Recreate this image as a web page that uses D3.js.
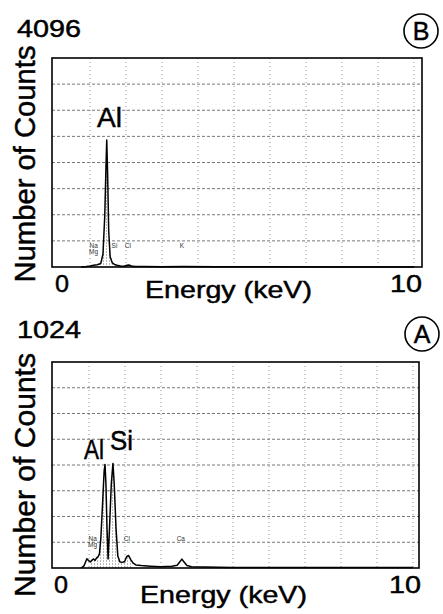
<!DOCTYPE html>
<html>
<head>
<meta charset="utf-8">
<script src="https://cdn.jsdelivr.net/npm/d3@7"></script>
<style>
  body { margin: 0; background: #fff; }
  svg { display: block; font-family: "Liberation Sans", Arial, sans-serif; }
  .big { stroke: #000; stroke-width: 0.45px; }
</style>
</head>
<body>
<div id="chart"></div>
<script>
// panel B spectrum (keV, counts)
const energyB = [0.75, 0.9, 1.0, 1.1, 1.2, 1.3, 1.36, 1.41, 1.445, 1.465, 1.49, 1.52, 1.56, 1.62, 1.68, 1.75, 1.85, 1.95, 2.03, 2.08, 2.15, 2.25, 2.5, 3.0, 3.6, 4.5, 6.0, 8.0, 10.0];
const countsB = [0, 8, 20, 35, 45, 70, 250, 1000, 2000, 2490, 1800, 700, 200, 80, 50, 35, 20, 15, 35, 40, 20, 10, 8, 6, 8, 4, 3, 2, 2];

// panel A spectrum (keV, counts)
const energyA = [0.78, 0.86, 0.94, 1.0, 1.04, 1.08, 1.12, 1.17, 1.21, 1.25, 1.29, 1.33, 1.38, 1.42, 1.445, 1.47, 1.5, 1.53, 1.57, 1.62, 1.665, 1.7, 1.75, 1.8, 1.86, 1.93, 1.99, 2.05, 2.1, 2.16, 2.22, 2.3, 2.45, 2.7, 3.0, 3.3, 3.45, 3.52, 3.58, 3.64, 3.72, 3.85, 4.2, 5.0, 6.0, 8.0, 10.0];
const countsA = [0, 10, 46, 35, 30, 38, 45, 38, 50, 55, 70, 150, 330, 480, 515, 420, 200, 45, 200, 420, 520, 420, 200, 60, 30, 28, 32, 58, 62, 42, 25, 15, 12, 9, 6, 9, 14, 30, 44, 30, 12, 6, 5, 3, 2, 2, 2];

const xTickLabels = ["0", "10"];
const maxB = 4096, maxA = 1024;

// small element markers under the peaks
const elemB = [{e: 1.1, t: ["Na", "Mg"]}, {e: 1.68, t: ["Si"]}, {e: 2.05, t: ["Cl"]}, {e: 3.55, t: ["K"]}];
const elemA = [{e: 1.1, t: ["Na", "Mg"]}, {e: 2.05, t: ["Cl"]}, {e: 3.55, t: ["Ca"]}];

const W = 443, H = 614;
const svg = d3.select("#chart").append("svg")
    .attr("width", W)
    .attr("height", H);

// hatch pattern for shaded region
const defs = svg.append("defs");
const pat = defs.append("pattern")
    .attr("id", "hatch")
    .attr("patternUnits", "userSpaceOnUse")
    .attr("width", 3)
    .attr("height", 3);
pat.append("line")
    .attr("x1", 1.5).attr("y1", 0)
    .attr("x2", 1.5).attr("y2", 3)
    .attr("stroke", "#999")
    .attr("stroke-width", 0.7)
    .attr("stroke-dasharray", "1,1");

function drawPanel(cfg) {
    const g = svg.append("g");

    const x = d3.scaleLinear().domain([0, 10]).range([cfg.x0, cfg.x10]);
    const y = d3.scaleLinear().domain([0, cfg.max]).range([cfg.bottom, cfg.top]);

    // grid
    const hTicks = d3.range(1, 8).map(i => cfg.max * i / 8);
    g.selectAll(".hgrid")
        .data(hTicks)
        .enter()
        .append("line")
        .attr("x1", cfg.left)
        .attr("x2", cfg.right)
        .attr("y1", d => y(d))
        .attr("y2", d => y(d))
        .attr("stroke", "#555")
        .attr("stroke-width", 0.8)
        .attr("stroke-dasharray", "3,2");

    g.selectAll(".vgrid")
        .data(d3.range(1, 11))
        .enter()
        .append("line")
        .attr("x1", d => x(d))
        .attr("x2", d => x(d))
        .attr("y1", cfg.top)
        .attr("y2", cfg.bottom)
        .attr("stroke", "#777")
        .attr("stroke-width", 0.8)
        .attr("stroke-dasharray", "1,3");

    const pts = cfg.energy.map((e, i) => ({e: e, c: cfg.counts[i]}));

    // shaded area under peaks
    const area = d3.area()
        .x(d => x(d.e))
        .y0(y(0))
        .y1(d => y(d.c));
    g.append("path")
        .datum(pts.filter(d => d.e >= 1.0 && d.e <= 2.25))
        .attr("d", area)
        .attr("fill", "url(#hatch)");

    const line = d3.line()
        .x(d => x(d.e))
        .y(d => y(d.c));
    g.append("path")
        .datum(pts)
        .attr("d", line)
        .attr("fill", "none")
        .attr("stroke", "#000")
        .attr("stroke-width", 1.5)
        .attr("stroke-linejoin", "round");

    // tiny element markers
    cfg.elems.forEach(el => {
        el.t.forEach((t, j) => {
            g.append("text")
                .attr("x", x(el.e))
                .attr("y", cfg.elemY + j * 6)
                .attr("text-anchor", "middle")
                .style("font-size", "6.5px")
                .attr("fill", "#333")
                .text(t);
        });
    });

    // frame
    g.append("rect")
        .attr("x", cfg.left)
        .attr("y", cfg.top)
        .attr("width", cfg.right - cfg.left)
        .attr("height", cfg.bottom - cfg.top)
        .attr("fill", "none")
        .attr("stroke", "#000")
        .attr("stroke-width", 1.6);

    // tick labels
    g.append("text")
        .attr("class", "big")
        .attr("x", x(0) + 1)
        .attr("y", cfg.tickY)
        .style("font-size", "23px")
        .attr("textLength", 14)
        .attr("lengthAdjust", "spacingAndGlyphs")
        .text(xTickLabels[0]);
    g.append("text")
        .attr("class", "big")
        .attr("x", x(10) + 8)
        .attr("y", cfg.tickY)
        .attr("text-anchor", "end")
        .style("font-size", "23px")
        .attr("textLength", 32)
        .attr("lengthAdjust", "spacingAndGlyphs")
        .text(xTickLabels[1]);

    // axis titles
    g.append("text")
        .attr("class", "big")
        .attr("x", cfg.xTitleX)
        .attr("y", cfg.xTitleY)
        .style("font-size", "24px")
        .attr("textLength", 167)
        .attr("lengthAdjust", "spacingAndGlyphs")
        .text("Energy (keV)");

    g.append("text")
        .attr("class", "big")
        .attr("transform", `translate(35, ${cfg.yTitleMid}) rotate(-90)`)
        .attr("text-anchor", "middle")
        .style("font-size", "30px")
        .attr("textLength", cfg.yTitleLen)
        .attr("lengthAdjust", "spacingAndGlyphs")
        .text("Number of Counts");

    // full scale
    g.append("text")
        .attr("class", "big")
        .attr("x", 17)
        .attr("y", cfg.maxY)
        .style("font-size", "23px")
        .attr("textLength", 64)
        .attr("lengthAdjust", "spacingAndGlyphs")
        .text(cfg.max);

    // circled panel letter
    g.append("circle")
        .attr("cx", cfg.cx)
        .attr("cy", cfg.cy)
        .attr("r", 17)
        .attr("fill", "none")
        .attr("stroke", "#000")
        .attr("stroke-width", 1.6);
    g.append("text")
        .attr("class", "big")
        .attr("x", cfg.cx)
        .attr("y", cfg.cy + 9)
        .attr("text-anchor", "middle")
        .style("font-size", "25px")
        .text(cfg.letter);

    // peak labels
    cfg.peaks.forEach(p => {
        g.append("text")
            .attr("class", "big")
            .attr("x", p.x)
            .attr("y", p.y)
            .style("font-size", "27px")
            .attr("textLength", p.w)
            .attr("lengthAdjust", "spacingAndGlyphs")
            .text(p.t);
    });
}

drawPanel({
    energy: energyB, counts: countsB, max: maxB, letter: "B",
    left: 52, right: 422, top: 58, bottom: 267, x0: 54, x10: 414,
    tickY: 292, xTitleX: 145, xTitleY: 298, yTitleMid: 164, yTitleLen: 237,
    maxY: 37, cx: 421, cy: 31, elemY: 248,
    elems: elemB,
    peaks: [{t: "Al", x: 97, y: 127, w: 25}]
});

drawPanel({
    energy: energyA, counts: countsA, max: maxA, letter: "A",
    left: 52, right: 419, top: 362, bottom: 568, x0: 53, x10: 413,
    tickY: 593, xTitleX: 140, xTitleY: 603, yTitleMid: 475, yTitleLen: 244,
    maxY: 338, cx: 422, cy: 334, elemY: 541,
    elems: elemA,
    peaks: [{t: "Al", x: 84, y: 459, w: 20}, {t: "Si", x: 110, y: 450, w: 23}]
});
</script>
</body>
</html>
